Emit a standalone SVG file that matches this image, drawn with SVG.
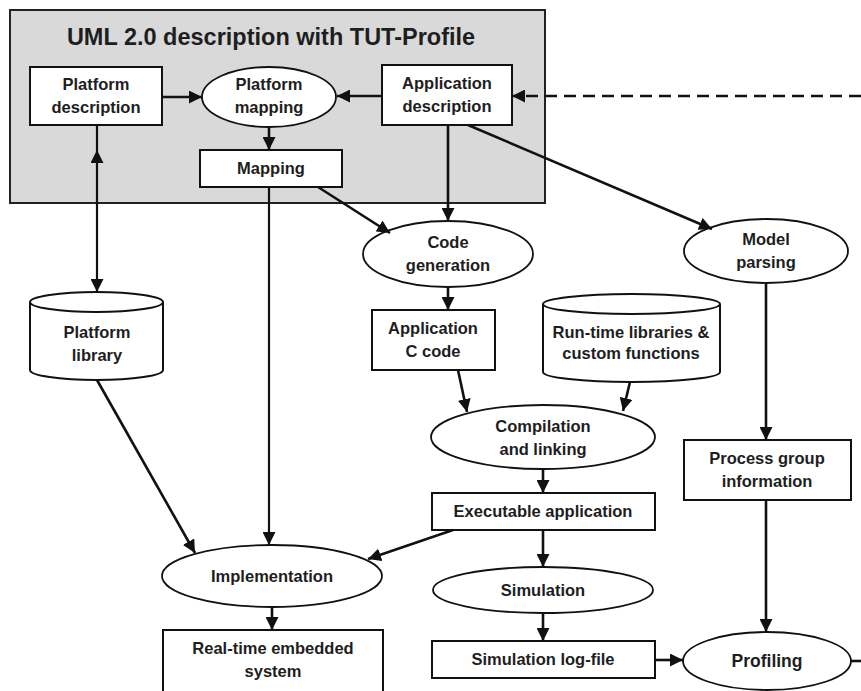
<svg xmlns="http://www.w3.org/2000/svg" width="861" height="691" viewBox="0 0 861 691">
  <defs>
    <marker id="arrow" markerUnits="userSpaceOnUse" markerWidth="14" markerHeight="13" refX="13" refY="6.5" orient="auto-start-reverse">
      <path d="M0,0 L13,6.5 L0,13 z" fill="#111"/>
    </marker>
  </defs>
  <style>
    .box { fill: #fff; stroke: #111; stroke-width: 2; }
    .ell { fill: #fff; stroke: #111; stroke-width: 1.8; }
    .lbl { font-family: "Liberation Sans", Arial, sans-serif; font-weight: bold; font-size: 16.5px; fill: #1e1e1e; text-anchor: middle; }
    .title { font-family: "Liberation Sans", Arial, sans-serif; font-weight: bold; font-size: 23.5px; fill: #1e1e1e; text-anchor: middle; }
    .edge { fill: none; stroke: #111; stroke-width: 2.6; marker-end: url(#arrow); }
    .dash { fill: none; stroke: #111; stroke-width: 2.6; stroke-dasharray: 12 7; marker-end: url(#arrow); }
    .plain { fill: none; stroke: #111; stroke-width: 2.6; }
  </style>

  <rect width="861" height="691" fill="#fff"/>

  <!-- UML model container -->
  <g id="uml-container">
    <rect x="10" y="10" width="535" height="193" fill="#d9d9d9" stroke="#222" stroke-width="2"/>
    <text class="title" x="271" y="45">UML 2.0 description with TUT-Profile</text>
  </g>

  <g id="platform-description">
    <rect class="box" x="30" y="67" width="132" height="58"/>
    <text class="lbl" x="96" y="90">Platform</text>
    <text class="lbl" x="96" y="113">description</text>
  </g>

  <g id="platform-mapping">
    <ellipse class="ell" cx="269" cy="97" rx="67" ry="30"/>
    <text class="lbl" x="269" y="90">Platform</text>
    <text class="lbl" x="269" y="113">mapping</text>
  </g>

  <g id="application-description">
    <rect class="box" x="382" y="65" width="130" height="60"/>
    <text class="lbl" x="447" y="89">Application</text>
    <text class="lbl" x="447" y="112">description</text>
  </g>

  <g id="mapping">
    <rect class="box" x="200" y="150" width="142" height="37"/>
    <text class="lbl" x="271" y="174">Mapping</text>
  </g>

  <g id="code-generation">
    <ellipse class="ell" cx="448" cy="254" rx="85" ry="33"/>
    <text class="lbl" x="448" y="248">Code</text>
    <text class="lbl" x="448" y="271">generation</text>
  </g>

  <g id="model-parsing">
    <ellipse class="ell" cx="766" cy="251" rx="82" ry="32"/>
    <text class="lbl" x="766" y="245">Model</text>
    <text class="lbl" x="766" y="268">parsing</text>
  </g>

  <g id="platform-library">
    <path class="box" d="M30,302 A66.5,10 0 0 1 163,302 L163,370 A66.5,10 0 0 1 30,370 Z"/>
    <path d="M30,302 A66.5,10 0 0 0 163,302" fill="none" stroke="#111" stroke-width="2"/>
    <text class="lbl" x="97" y="338">Platform</text>
    <text class="lbl" x="97" y="361">library</text>
  </g>

  <g id="application-c-code">
    <rect class="box" x="372" y="310" width="123" height="60"/>
    <text class="lbl" x="433" y="334">Application</text>
    <text class="lbl" x="433" y="357">C code</text>
  </g>

  <g id="runtime-libraries">
    <path class="box" d="M543,304 A88.5,10 0 0 1 720,304 L720,372 A88.5,10 0 0 1 543,372 Z"/>
    <path d="M543,304 A88.5,10 0 0 0 720,304" fill="none" stroke="#111" stroke-width="2"/>
    <text class="lbl" x="631" y="338">Run-time libraries &amp;</text>
    <text class="lbl" x="631" y="359">custom functions</text>
  </g>

  <g id="compilation-linking">
    <ellipse class="ell" cx="543" cy="437" rx="112" ry="32"/>
    <text class="lbl" x="543" y="432">Compilation</text>
    <text class="lbl" x="543" y="455">and linking</text>
  </g>

  <g id="process-group-information">
    <rect class="box" x="684" y="440" width="167" height="60"/>
    <text class="lbl" x="767" y="464">Process group</text>
    <text class="lbl" x="767" y="487">information</text>
  </g>

  <g id="executable-application">
    <rect class="box" x="432" y="493" width="223" height="37"/>
    <text class="lbl" x="543" y="517">Executable application</text>
  </g>

  <g id="implementation">
    <ellipse class="ell" cx="272" cy="576" rx="110" ry="31"/>
    <text class="lbl" x="272" y="582">Implementation</text>
  </g>

  <g id="simulation">
    <ellipse class="ell" cx="543" cy="590" rx="110" ry="23"/>
    <text class="lbl" x="543" y="596">Simulation</text>
  </g>

  <g id="realtime-system">
    <rect class="box" x="163" y="630" width="220" height="66"/>
    <text class="lbl" x="273" y="654">Real-time embedded</text>
    <text class="lbl" x="273" y="677">system</text>
  </g>

  <g id="simulation-log">
    <rect class="box" x="432" y="641" width="223" height="37"/>
    <text class="lbl" x="543" y="665">Simulation log-file</text>
  </g>

  <g id="profiling">
    <ellipse class="ell" cx="767" cy="661" rx="84" ry="29"/>
    <text class="lbl" x="767" y="667" style="font-size:17.5px">Profiling</text>
  </g>

  <!-- connectors -->
  <g id="connectors">
    <line class="edge" x1="162" y1="97" x2="202" y2="97"/>
    <line class="edge" x1="382" y1="96" x2="337" y2="96"/>
    <line class="dash" x1="861" y1="96" x2="512" y2="96"/>
    <line class="edge" x1="269" y1="127" x2="269" y2="150"/>
    <line class="edge" x1="97" y1="150" x2="97" y2="292" style="marker-start:url(#arrow);stroke-width:2.2" />
    <line class="plain" x1="97" y1="125" x2="97" y2="150" style="stroke-width:2.2"/>
    <line class="edge" x1="318" y1="187" x2="390" y2="233"/>
    <line class="edge" x1="269" y1="187" x2="269" y2="545" style="stroke-width:2.2"/>
    <line class="edge" x1="448" y1="125" x2="448" y2="221"/>
    <line class="edge" x1="468" y1="125" x2="712" y2="229"/>
    <line class="edge" x1="448" y1="287" x2="448" y2="310"/>
    <line class="edge" x1="458" y1="370" x2="467" y2="412"/>
    <line class="edge" x1="630" y1="382" x2="623" y2="411"/>
    <line class="edge" x1="543" y1="469" x2="543" y2="493"/>
    <line class="edge" x1="766" y1="283" x2="766" y2="440"/>
    <line class="edge" x1="766" y1="500" x2="766" y2="632"/>
    <line class="edge" x1="453" y1="530" x2="368" y2="559"/>
    <line class="edge" x1="97" y1="380" x2="195" y2="553"/>
    <line class="edge" x1="272" y1="607" x2="272" y2="630"/>
    <line class="edge" x1="543" y1="530" x2="543" y2="567"/>
    <line class="edge" x1="543" y1="613" x2="543" y2="641"/>
    <line class="edge" x1="655" y1="660" x2="683" y2="660"/>
    <line class="plain" x1="851" y1="661" x2="861" y2="661"/>
  </g>
</svg>
